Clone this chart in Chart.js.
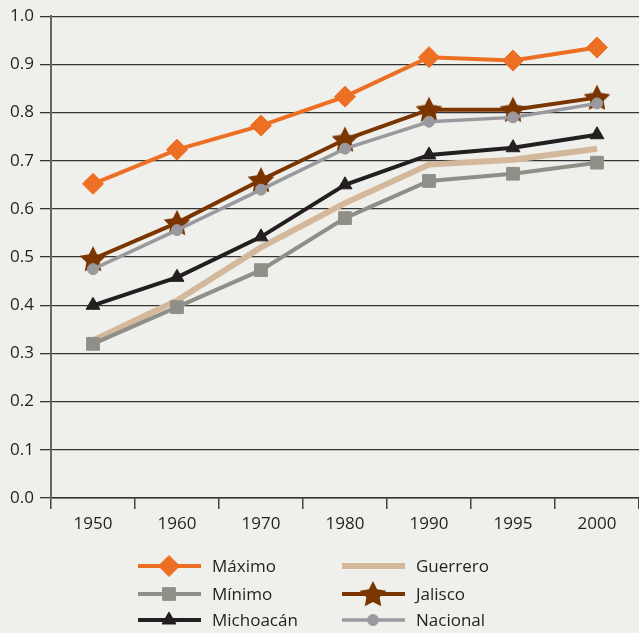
<!DOCTYPE html>
<html>
<head>
<meta charset="utf-8">
<script src="https://cdn.jsdelivr.net/npm/chart.js@4.4.0/dist/chart.umd.min.js"></script>
<style>
  html, body { margin: 0; padding: 0; background: #efefeb; }
  #contenedor { width: 639px; height: 633px; }
</style>
</head>
<body>
<div id="contenedor"><canvas id="grafica"></canvas></div>
<script>
// Datos
const anios = ['1950', '1960', '1970', '1980', '1990', '1995', '2000'];
const maximo    = [0.652, 0.723, 0.773, 0.833, 0.915, 0.908, 0.935];
const minimo    = [0.320, 0.396, 0.473, 0.581, 0.658, 0.673, 0.696];
const michoacan = [0.400, 0.458, 0.542, 0.650, 0.712, 0.727, 0.754];
const guerrero  = [0.327, 0.410, 0.520, 0.612, 0.692, 0.702, 0.725];
const jalisco   = [0.496, 0.571, 0.660, 0.744, 0.806, 0.806, 0.831];
const nacional  = [0.475, 0.556, 0.640, 0.725, 0.781, 0.790, 0.819];

const fuente = "'Open Sans', 'Noto Sans', sans-serif";
const colorTexto = '#231f20';

// estrella rellena para Jalisco
function crearEstrella(color, r) {
  const c = document.createElement('canvas');
  c.width = r * 2 + 2;
  c.height = r * 2 + 2;
  const ctx = c.getContext('2d');
  ctx.fillStyle = color;
  ctx.beginPath();
  for (let i = 0; i < 10; i++) {
    const rad = i % 2 === 0 ? r : r * 0.5;
    const ang = -Math.PI / 2 + i * Math.PI / 5;
    const px = c.width / 2 + Math.cos(ang) * rad;
    const py = c.height / 2 + Math.sin(ang) * rad + 1;
    if (i === 0) ctx.moveTo(px, py); else ctx.lineTo(px, py);
  }
  ctx.closePath();
  ctx.fill();
  return c;
}
const estrella = crearEstrella('#7a3500', 14);

function serie(label, data, color, ancho, estilo, radio, orden) {
  return {
    label: label,
    data: data,
    borderColor: color,
    backgroundColor: color,
    borderWidth: ancho,
    pointStyle: estilo,
    pointRadius: radio,
    pointHoverRadius: radio,
    pointBackgroundColor: color,
    pointBorderColor: color,
    pointBorderWidth: 1,
    tension: 0,
    fill: false,
    order: orden
  };
}

const datasets = [
  serie('Máximo', maximo, '#ec6f24', 4, 'rectRot', 10.5, 1),
  serie('Guerrero', guerrero, '#d4b89c', 6, 'circle', 0, 6),
  serie('Mínimo', minimo, '#8f8f88', 4, 'rect', 9, 5),
  serie('Jalisco', jalisco, '#7a3500', 4, estrella, 13, 3),
  serie('Michoacán', michoacan, '#231f20', 4, 'triangle', 8, 4),
  serie('Nacional', nacional, '#9a9a9e', 3.5, 'circle', 5.5, 2)
];

// Leyenda en dos columnas dibujada en el lienzo
const leyenda = {
  id: 'leyenda',
  afterDraw(chart) {
    const ctx = chart.ctx;
    const filas = [566, 594, 620];
    const columnas = [138, 342];
    chart.data.datasets.forEach(function (ds, i) {
      const x = columnas[i % 2];
      const y = filas[Math.floor(i / 2)];
      ctx.save();
      ctx.strokeStyle = ds.borderColor;
      ctx.lineWidth = ds.borderWidth;
      ctx.beginPath();
      ctx.moveTo(x, y);
      ctx.lineTo(x + 63, y);
      ctx.stroke();
      if (ds.pointRadius > 0) {
        ctx.fillStyle = ds.pointBackgroundColor;
        ctx.strokeStyle = ds.pointBorderColor;
        ctx.lineWidth = 1;
        Chart.helpers.drawPoint(ctx, { pointStyle: ds.pointStyle, radius: ds.pointRadius, borderWidth: 1, rotation: 0 }, x + 31, y);
      }
      ctx.fillStyle = colorTexto;
      ctx.font = '17px ' + fuente;
      ctx.textBaseline = 'middle';
      ctx.textAlign = 'left';
      ctx.fillText(ds.label, x + 74, y + 1);
      ctx.restore();
    });
  }
};

new Chart(document.getElementById('grafica'), {
  type: 'line',
  data: { labels: anios, datasets: datasets },
  options: {
    responsive: true,
    maintainAspectRatio: false,
    animation: false,
    layout: { autoPadding: false, padding: { top: 8, right: 0, bottom: 95, left: 0 } },
    plugins: {
      legend: { display: false },
      tooltip: { enabled: false }
    },
    scales: {
      x: {
        offset: true,
        grid: { offset: true, drawOnChartArea: false, drawTicks: true, tickLength: 11, color: '#444', lineWidth: 1.5 },
        border: { color: '#333', width: 1.5 },
        ticks: { color: colorTexto, font: { family: fuente, size: 17 }, padding: 5 },
        afterFit: function (s) {
          s.height = 40;
          s.paddingLeft = 0;
          s.paddingRight = 0;
        }
      },
      y: {
        min: 0,
        max: 1,
        ticks: {
          stepSize: 0.1,
          color: colorTexto,
          font: { family: fuente, size: 17 },
          padding: 6,
          callback: function (v) { return v.toFixed(1); }
        },
        grid: { color: '#333', lineWidth: 1.3, tickLength: 11 },
        border: { color: '#666', width: 2 },
        afterFit: function (s) { s.width = 51; }
      }
    }
  },
  plugins: [leyenda]
});
</script>
</body>
</html>
